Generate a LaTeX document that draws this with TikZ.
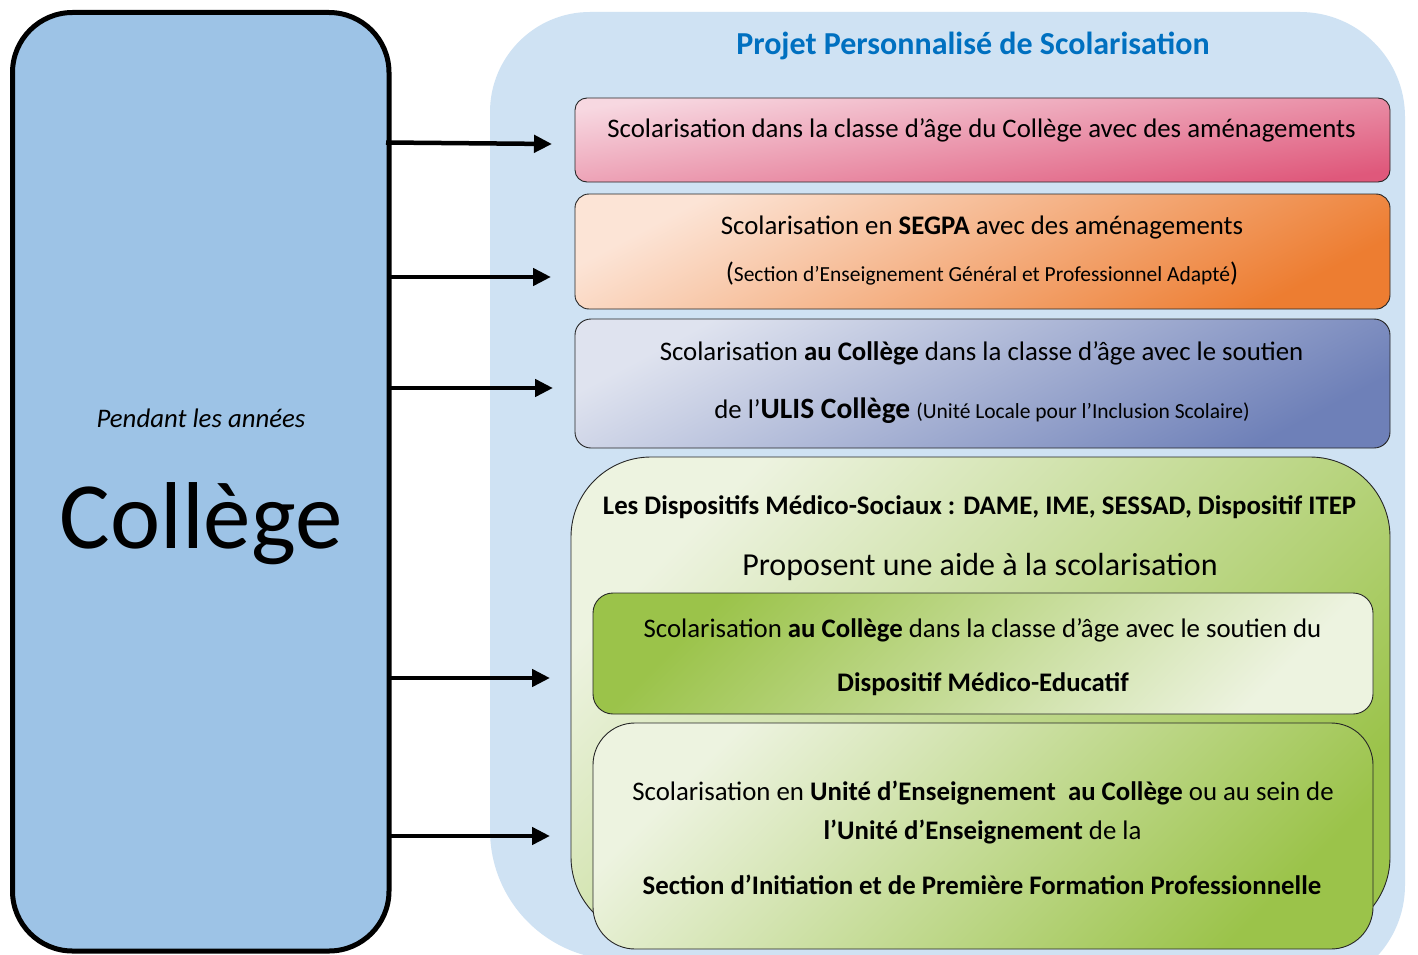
\documentclass[tikz,border=0pt]{standalone}
\usepackage{fontspec}
\setmainfont{Carlito}
\usetikzlibrary{arrows.meta}
\definecolor{leftblue}{HTML}{9DC3E6}
\definecolor{bgblue}{HTML}{CFE2F3}
\definecolor{titleblue}{HTML}{0070C0}
\definecolor{pinkL}{HTML}{F7D8E1}
\definecolor{pinkD}{HTML}{DF587B}
\definecolor{orgL}{HTML}{FCE4D6}
\definecolor{orgD}{HTML}{ED7D31}
\definecolor{lavL}{HTML}{DFE3EF}
\definecolor{lavD}{HTML}{6E80B8}
\definecolor{grnL}{HTML}{EDF3E0}
\definecolor{grnD}{HTML}{9BC34A}
\newcommand\fsBody{\fontsize{26.8}{30}\selectfont}
\newcommand\fsSmall{\fontsize{21.5}{25}\selectfont}
\newcommand\fsTitle{\fontsize{32}{36}\selectfont}
\newcommand\fsBig{\fontsize{29.5}{33}\selectfont}
\newcommand\fsProp{\fontsize{32}{36}\selectfont}
\newcommand\fsHuge{\fontsize{95}{100}\selectfont}
\tikzset{
  box/.style={draw=black!85, line width=0.9pt, inner sep=0pt, outer sep=0pt},
  txt/.style={anchor=base, inner sep=0pt, outer sep=0pt, font=\fsBody},
  arr/.style={line width=4.5pt, -{Triangle[length=18pt,width=17pt]}},
}
\begin{document}
\begin{tikzpicture}[x=1pt,y=-1pt]
\useasboundingbox (0,0) rectangle (1418,955);
\fill[white] (0,0) rectangle (1418,955);
% background panel
\fill[bgblue] (490,112) .. controls (490,56.8) and (534.8,12) .. (590,12)
  -- (1300,12) .. controls (1358,12) and (1405,59) .. (1405,117)
  -- (1405,885) .. controls (1405,943) and (1358,990) .. (1300,990)
  -- (620,960) .. controls (548,960) and (490,902) .. (490,830) -- cycle;
% left box
\node[draw=black, line width=5pt, fill=leftblue, rounded corners=60pt,
  minimum width=376.5pt, minimum height=938.5pt, inner sep=0pt, outer sep=0pt]
  (college) at (200.75,481.75) {};
% arrow targets
\coordinate (e1) at (552,144);
\coordinate (e2) at (551,277);
\coordinate (e3) at (553,388);
\coordinate (e4) at (550,678);
\coordinate (e5) at (550,836);
\draw[arr] ([xshift=-3pt]college.east |- 0,142.5) -- (e1);
\draw[arr] (college.east |- e2) -- (e2);
\draw[arr] (college.east |- e3) -- (e3);
\draw[arr] (college.east |- e4) -- (e4);
\draw[arr] (college.east |- e5) -- (e5);
% right boxes
\node[box, rounded corners=12pt, top color=pinkL, bottom color=pinkD, shading angle=8,
  minimum width=815pt, minimum height=84pt] (b1) at (982.5,140) {};
\node[box, rounded corners=14pt, top color=orgL, bottom color=orgD, shading angle=28,
  minimum width=815pt, minimum height=115pt] (b2) at (982.5,251.5) {};
\node[box, rounded corners=16pt, top color=lavL, bottom color=lavD, shading angle=28,
  minimum width=815pt, minimum height=129pt] (b3) at (982.5,383.5) {};
\node[box, rounded corners=80pt, top color=grnL, bottom color=grnD, shading angle=45,
  minimum width=819pt, minimum height=480pt] (med) at (980.5,697) {};
\node[box, rounded corners=20pt, top color=grnD, bottom color=grnL, shading angle=45,
  minimum width=780pt, minimum height=121pt] (i1) at (983,653.5) {};
\node[box, rounded corners=42pt, top color=grnL, bottom color=grnD, shading angle=45,
  minimum width=780pt, minimum height=226pt] (i2) at (983,836) {};
% texts
\node[txt, font=\bfseries\fsTitle, text=titleblue] (title) at (973,55) {Projet Personnalisé de Scolarisation};
\node[txt] (t1) at (981.5,137) {Scolarisation dans la classe d’âge du Collège avec des aménagements};
\node[txt] (t2a) at (982,234) {Scolarisation en \textbf{SEGPA} avec des aménagements};
\node[txt] (t2b) at (982,281) {(\fsSmall Section d’Enseignement Général et Professionnel Adapté\fsBody)};
\node[txt] (t3a) at (981.5,360) {Scolarisation \textbf{au Collège} dans la classe d’âge avec le soutien};
\node[txt] (t3b) at (982,418) {de l’{\bfseries\fsBig ULIS Collège} {\fsSmall(Unité Locale pour l’Inclusion Scolaire)}};
\node[txt, font=\bfseries\fsBody] (t4) at (979.5,514) {Les Dispositifs Médico-Sociaux : DAME, IME, SESSAD, Dispositif ITEP};
\node[txt, font=\fsProp] (t5) at (980,575) {Proposent une aide à la scolarisation};
\node[txt] (t6a) at (982.5,637) {Scolarisation \textbf{au Collège} dans la classe d’âge avec le soutien du};
\node[txt, font=\bfseries\fsBody] (t6b) at (983,691) {Dispositif Médico-Educatif};
\node[txt] (t7a) at (983,800) {Scolarisation en \textbf{Unité d’Enseignement\ \ au Collège} ou au sein de};
\node[txt] (t7b) at (982.5,839) {\textbf{l’Unité d’Enseignement} de la};
\node[txt, font=\bfseries\fsBody] (t7c) at (982,894) {Section d’Initiation et de Première Formation Professionnelle};
\node[txt, font=\itshape\fsBody] (pend) at (201,427) {Pendant les années};
\node[txt, font=\fsHuge] (coll) at (201,548) {Collège};
\end{tikzpicture}
\end{document}
